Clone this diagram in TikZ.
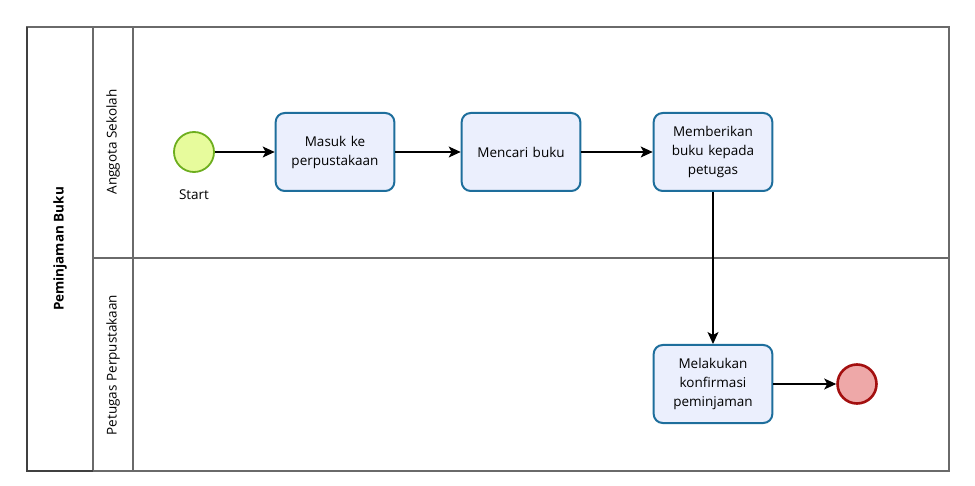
\documentclass[tikz,border=0pt]{standalone}
\usepackage{fontspec}
\setmainfont{Open Sans}
\usetikzlibrary{arrows.meta}

\definecolor{taskblue}{HTML}{1E6E9C}
\definecolor{taskfill}{HTML}{EBEFFD}
\definecolor{startline}{HTML}{6DAE1E}
\definecolor{startfill}{HTML}{E7FB9C}
\definecolor{endline}{HTML}{A30F0F}
\definecolor{endfill}{HTML}{EEA8A8}
\definecolor{poolgray}{HTML}{6A6A6A}

\tikzstyle{task} = [draw=taskblue, fill=taskfill, line width=2pt, rounded corners=9pt, minimum width=118pt, minimum height=78pt, text width=112pt, align=center, font=\fontsize{13.5}{19}\selectfont]
\tikzstyle{startev} = [circle, draw=startline, fill=startfill, line width=1.8pt, minimum size=40pt, inner sep=0pt]
\tikzstyle{endev} = [circle, draw=endline, fill=endfill, line width=2.6pt, minimum size=39pt, inner sep=0pt]
\tikzstyle{lbl} = [font=\fontsize{13.5}{16}\selectfont]
\tikzstyle{line} = [draw, -{Stealth[length=12pt,width=11pt,inset=3pt]}, line width=1.1pt]

\begin{document}
\begin{tikzpicture}[x=1pt,y=-1pt]
	\useasboundingbox (0,0) rectangle (975,486);

	% Pool and lanes
	\draw[poolgray, line width=1.2pt] (27,27) rectangle (949,471);
	\draw[poolgray, line width=1.2pt] (93,27) -- (93,471);
	\draw[poolgray, line width=1.2pt] (133,27) -- (133,471);
	\draw[poolgray, line width=1.2pt] (93,258) -- (949,258);
	\draw[black!75, line width=1.6pt] (27,27) -- (27,471) -- (93,471);
	\node[lbl, rotate=90, font=\fontsize{13.5}{16}\bfseries] (pool) at (60,249) {Peminjaman Buku};
	\node[lbl, rotate=90] (lane1) at (113,142) {Anggota Sekolah};
	\node[lbl, rotate=90] (lane2) at (113,365) {Petugas Perpustakaan};

	% Anggota Sekolah
	\node[startev] (start) at (194,152) {};
	\node[lbl] (startlbl) at (194,195) {Start};
	\node[task] (masuk) at (335,152) {Masuk ke\\perpustakaan};
	\node[task] (cari) at (521,152) {Mencari buku};
	\node[task] (beri) at (713,152) {Memberikan\\buku kepada\\petugas};

	% Petugas Perpustakaan
	\node[task] (konfirmasi) at (713,384) {Melakukan\\konfirmasi\\peminjaman};
	\node[endev] (end) at (857,384) {};

	% Flows
	\path[line] (start) -- (masuk);
	\path[line] (masuk) -- (cari);
	\path[line] (cari) -- (beri);
	\path[line] (beri) -- (konfirmasi);
	\path[line] (konfirmasi) -- (end);

\end{tikzpicture}
\end{document}
